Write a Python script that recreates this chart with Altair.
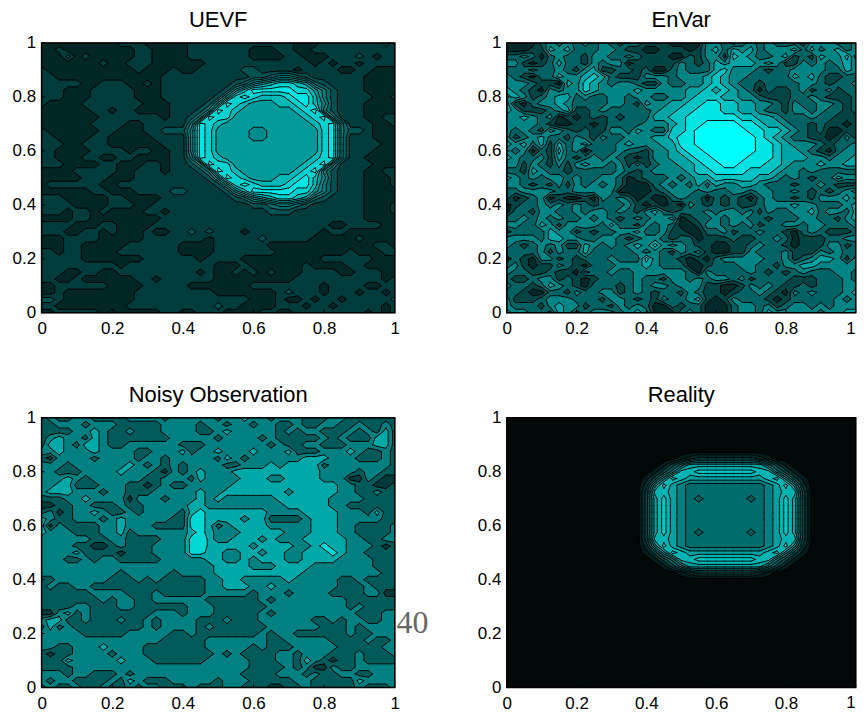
import altair as alt

TITLES = ["UEVF", "EnVar", "Noisy Observation", "Reality"]
PAL_UEVF = ["#002626", "#003c3c", "#005252", "#006a6a", "#007e7e", "#008c8c", "#009a9a", "#00b8b8", "#00d2d2", "#00e6e6"]
PAL_ENVAR = ["#002a2a", "#004444", "#006262", "#008484", "#00a4a4", "#00c4c4", "#00e4e4", "#00ffff"]
PAL_NOISY = ["#003a3a", "#005a5a", "#008080", "#00a8a8", "#00d8d8"]
PAL_REAL = ["#000808", "#001c1c", "#003030", "#004848", "#005c5c", "#006c6c", "#008080", "#00a0a0", "#00b4b4", "#00c8c8"]
TICKS = [0, 0.2, 0.4, 0.6, 0.8, 1]

UEVF = [
"00000000011100000111111111111000111111121",
"00100000000110000111111100011001111111111",
"00020100000110000111111100001100011121011",
"00000001001110000001111111111110101101111",
"10000000000100010011111221111011110011000",
"110000000000001" "1111111112234432111111" "0000",
"111110011100101" "1111111235678876321111" "0000",
"111000111110001" "1111112579999988642111" "0000",
"111000111110001" "1111125898777899742111" "1001",
"100001111111000" "1111259876667789752111" "0000",
"000000110110000" "1112498766666678942111" "0000",
"000000011111110" "1124988666666667894111" "0011",
"000000111100111" "1149876666666666789411" "1001",
"100000011000112" "2259866665566666689422" "1000",
"110000110000011" "1159866665566666689411" "1000",
"111001110000001" "1159866666666666689411" "1100",
"110000111101100" "1159866666666666689411" "1000",
"110001100110000" "1149876666666666789411" "0000",
"111000011000110" "1124988666666667894111" "1000",
"000011111001110" "1112498766666678942111" "0011",
"000001110001111" "1111259876667789752111" "0001",
"011111100111111" "1111125898777899742111" "0001",
"000000110001111" "2211112579999988642111" "0000",
"111000001100001" "1111111235678876321111" "0000",
"111100001110011" "1111111112234432111111" "0001",
"111011010000110" "1111111111122211111111" "0001",
"000011000000001" "1111111111111111111111" "0000",
"11110001100001111111111111111111100111100",
"11100110100010011212111011111111011000000",
"00011110000011111110111112111110000010000",
"00011000001111110000111111000000000000110",
"11011000011111110000111111100000000100011",
"11111000000011111101111000000000111111000",
"11111111101111111111000100000010000110000",
"11100110011111111101001010100011110011100",
"11001000000110111111000000000111111111101",
"00111111000011111000000011111111011110011",
"00100000000111111111000000012111011101101",
"22100000000111111111111100010010110111112",
"11000000001111111111211000011101101111101",
"00111110100000110011100001100111111110101",
]
ENVAR = [
"00002323232321221110000332123232221333223",
"00011434222332110011101342434233342423423",
"22320232213322321110021331543223412143352",
"33101242213233011111321243444343113232343",
"22232232134112212002322245333212233332243",
"32102243345421113332333454332222243421122",
"33321104354323321132233454322122223321223",
"43210323354333343333344545432021123123122",
"34312344232233233223345554433211122321112",
"41023343222233214334455665544332132233212",
"43111234112322222344556665544322133232212",
"33432301012121222445566666655443222322111",
"33332100110122223334566777766544322121101",
"32321432121133243225567777776655432120011",
"31234221321322333445667777777654322110131",
"43424142342223433344667777777665433321223",
"32302152302223221334566777777665443210233",
"43223142123232101334456677776665444332334",
"33132131343323131233445667766655433343344",
"22143221222223212333345566665554332322222",
"43232332322332012223234455555443232122433",
"33212131323232000232324243344322212232111",
"22333322333330000123332322332332232121234",
"20123010010323201002322021210232212133342",
"01223232321222310101032121211233343322234",
"02213322323323213421222323323132233423324",
"22323232232321232334012232332212223322134",
"33224313333242213232001332323122332332223",
"12222433121223342231100223122322102321112",
"33332443322332123321220111211223201112233",
"32123231143232343534321100112322101113312",
"22223132242222232321323100113222311132322",
"12103312122232225322101023333322312344313",
"23101132102223334322200122233221334433333",
"32211211032232233333320322223212123222332",
"21123312101222232213323233231222211122232",
"32212432102221232332333110013232112122233",
"22100221322331232122132110122321032322234",
"31112333222133212132234101322210122222323",
"32221343312213232002122000233231233232333",
"43322143123332343000232000233243333323344",
]
NOISY = [
"12112211112222122222122322122211122111111",
"11222122211111222212212212211211221121121",
"11112232112111222211232222212122111212131",
"12322132111111122222122221211111212111331",
"13321332112222221112222222121122111222331",
"22322232222112223122322232223111222321121",
"10222212222122122222132122222233322211121",
"22212222223212121222211222323333122222221",
"22111222232221021232223333333333222212211",
"22232122222211222132222333223333222002100",
"22331112221101211222223333333333332211001",
"23332221221112222232233333332333332211211",
"11122322220222122232322222233333322221111",
"00112211121122222332222222223333322111111",
"12012232112122221343333333222233332221311",
"32112221232222211443333233111123332222211",
"30211112232221111443123333222223332211112",
"32221112231222222343222333332223332211112",
"22222211221111222453223332322233333221122",
"22221100121112222453333323333223433222101",
"22223111101112222443322332332233343221111",
"22211212211111222223322323332233332222111",
"22222222222222222222333322233332222222111",
"22222222212222212222333333333322222222211",
"11222222111212111112233222223222221121111",
"12112211111111111112233322322222221112111",
"11111122221112111112222212221222211112200",
"11111112122112222221111112122222222111111",
"11112211122111111222111111222222222121111",
"00231211111112221222111112122222222211122",
"23311211121121222211121112222221121221122",
"13121111111121222212111111222222111212222",
"22222111112222211211111112122111111211222",
"22222222222222111112222222112222211112112",
"22112223222211111112222212111222221111122",
"10112222122211111111212111122122211121112",
"11132222232221111112222211122132101121111",
"11112222222222222222222211112120021122222",
"22212211121222222222222111122212112211222",
"21221111213211122222122211111221111132222",
"12112112112122111211122111001121111121112",
]
REAL_CORE = [
"00000012333333321000000",
"00001357777777775310000",
"00013588999999988531000",
"00136987777777778963100",
"00269765555555556796200",
"00388765555555556788300",
"00379765455555456797300",
"00379765555555556797300",
"00379765555555556797300",
"00379765555555556797300",
"00379765555555556797300",
"00379765455555456797300",
"00388765555555556788300",
"00269765555555556796200",
"00136987777777778963100",
"00013588999999988531000",
"00001357777777775310000",
"00000012333333321000000",
]
REALITY = ["0" * 41] * 6 + ["0" * 14 + s + "0" * 4 for s in REAL_CORE] + ["0" * 41] * 17

WL, WR, H = 354.3, 350, 270.5
N = 41
FONT = "Liberation Sans"


def parse(rows):
    out = []
    for r in rows[:N]:
        r = r.ljust(N, r[-1])[:N]
        out.append([int(c) for c in r])
    return out[::-1]  # bottom row first


def contours(z, t, W):
    dx, dy = W / (N - 1), H / (N - 1)
    polys, segs = [], []
    for j in range(N - 1):
        for i in range(N - 1):
            cs = [(i, j), (i + 1, j), (i + 1, j + 1), (i, j + 1)]
            v = [z[b][a] for a, b in cs]
            hi = [x >= t for x in v]
            if not any(hi):
                continue
            P = [(a * dx, b * dy) for a, b in cs]
            if all(hi):
                polys.append(P)
                continue

            def cross(k):
                k2 = (k + 1) % 4
                f = (t - v[k]) / (v[k2] - v[k])
                return (P[k][0] + f * (P[k2][0] - P[k][0]), P[k][1] + f * (P[k2][1] - P[k][1]))

            n_hi = sum(hi)
            saddle = n_hi == 2 and hi[0] == hi[2]
            if saddle and sum(v) / 4 < t:
                for k in range(4):
                    if hi[k]:
                        a, b = cross((k + 3) % 4), cross(k)
                        polys.append([P[k], b, a])
                        segs.append([a, b])
                continue
            pts = []
            for k in range(4):
                if hi[k]:
                    pts.append(P[k])
                if hi[k] != hi[(k + 1) % 4]:
                    pts.append(cross(k))
            polys.append(pts)
            for k in range(4):
                if not hi[k] and (n_hi == 3 or saddle):
                    segs.append([cross((k + 3) % 4), cross(k)])
            if n_hi == 1:
                k = hi.index(True)
                segs.append([cross((k + 3) % 4), cross(k)])
            if n_hi == 2 and not saddle:
                cr = [cross(k) for k in range(4) if hi[k] != hi[(k + 1) % 4]]
                segs.append(cr)
    return polys, segs


def rnd(p):
    return [round(p[0], 2), round(p[1], 2)]


def panel(rows, pal, title, W, right=False, extra=None):
    z = parse(rows)
    rect = [[[0, 0], [W, 0], [W, H], [0, H], [0, 0]]]
    feats = [{"type": "Feature", "properties": {"c": pal[0]},
              "geometry": {"type": "Polygon", "coordinates": rect}}]
    lines = []
    for lv in range(1, len(pal)):
        polys, segs = contours(z, lv - 0.5, W)
        lines += segs
        if polys:
            feats.append({"type": "Feature", "properties": {"c": pal[lv]},
                          "geometry": {"type": "MultiPolygon",
                                       "coordinates": [[[rnd(q) for q in p] + [rnd(p[0])]] for p in polys]}})
    linefeat = [{"type": "Feature", "properties": {},
                 "geometry": {"type": "MultiLineString",
                              "coordinates": rect + [[rnd(a), rnd(b)] for a, b in lines]}}]
    fill = alt.Chart(alt.Data(values=feats)).mark_geoshape(strokeWidth=0).encode(
        fill=alt.Fill("properties.c:N", scale=None)).project(type="identity", reflectY=True)
    stroke = alt.Chart(alt.Data(values=linefeat)).mark_geoshape(
        filled=False, stroke="black", strokeWidth=0.9, strokeCap="round").project(type="identity", reflectY=True)
    xvals = TICKS[:-1] if right else TICKS
    xax = alt.Axis(values=xvals, tickSize=0, domain=False, grid=False, title=None, labelFlush=False,
                   labelFont=FONT, labelFontSize=17, labelColor="black", labelPadding=8,
                   labelAngle=0, format="~g", labelOverlap=False)
    yax = alt.Axis(values=TICKS, tickSize=0, domain=False, grid=False, title=None, labelFlush=False,
                   labelFont=FONT, labelFontSize=17, labelColor="black", labelPadding=6,
                   format="~g", labelOverlap=False)
    box = alt.Chart(alt.Data(values=[{"a": 0, "b": 1, "c": 0, "d": 1}])).mark_rect(
        filled=False, stroke="black", strokeWidth=1.5).encode(
        x=alt.X("a:Q", scale=alt.Scale(domain=[0, 1], nice=False), axis=xax),
        x2="b:Q",
        y=alt.Y("c:Q", scale=alt.Scale(domain=[0, 1], nice=False), axis=yax),
        y2="d:Q")
    tk = alt.Data(values=[{"t": t} for t in TICKS])
    layers = [fill, stroke, box,
              alt.Chart(tk).mark_rule(color="black").encode(x="t:Q", y=alt.value(H), y2=alt.value(H - 3)),
              alt.Chart(tk).mark_rule(color="black").encode(y="t:Q", x=alt.value(0), x2=alt.value(3))]
    if right:
        layers.append(alt.Chart(alt.Data(values=[{"s": "1"}])).mark_text(
            font=FONT, fontSize=17, color="black", align="right", baseline="top").encode(
            text="s:N", x=alt.value(W), y=alt.value(H + 8)))
    if extra is not None:
        layers.append(extra)
    return alt.layer(*layers).properties(
        width=W, height=H,
        title=alt.TitleParams(title, font=FONT, fontSize=22, fontWeight="normal",
                              color="black", offset=2, anchor="middle"))


note = alt.Chart(alt.Data(values=[{"s": "40"}])).mark_text(
    font="Liberation Serif", fontSize=32, color="#666666", align="left", baseline="middle").encode(
    text="s:N", x=alt.value(356), y=alt.value(206))

chart = alt.concat(
    panel(UEVF, PAL_UEVF, TITLES[0], WL),
    panel(ENVAR, PAL_ENVAR, TITLES[1], WR, right=True),
    panel(NOISY, PAL_NOISY, TITLES[2], WL, extra=note),
    panel(REALITY, PAL_REAL, TITLES[3], WR, right=True),
    columns=2,
    bounds="flush",
    spacing=alt.RowColnumber(column=111.7, row=105),
).properties(padding={"left": 3.7, "top": 0, "right": 0, "bottom": 0}).configure_view(stroke=None)
chart.save("out.html", embed_options={"renderer": "svg", "actions": False})
